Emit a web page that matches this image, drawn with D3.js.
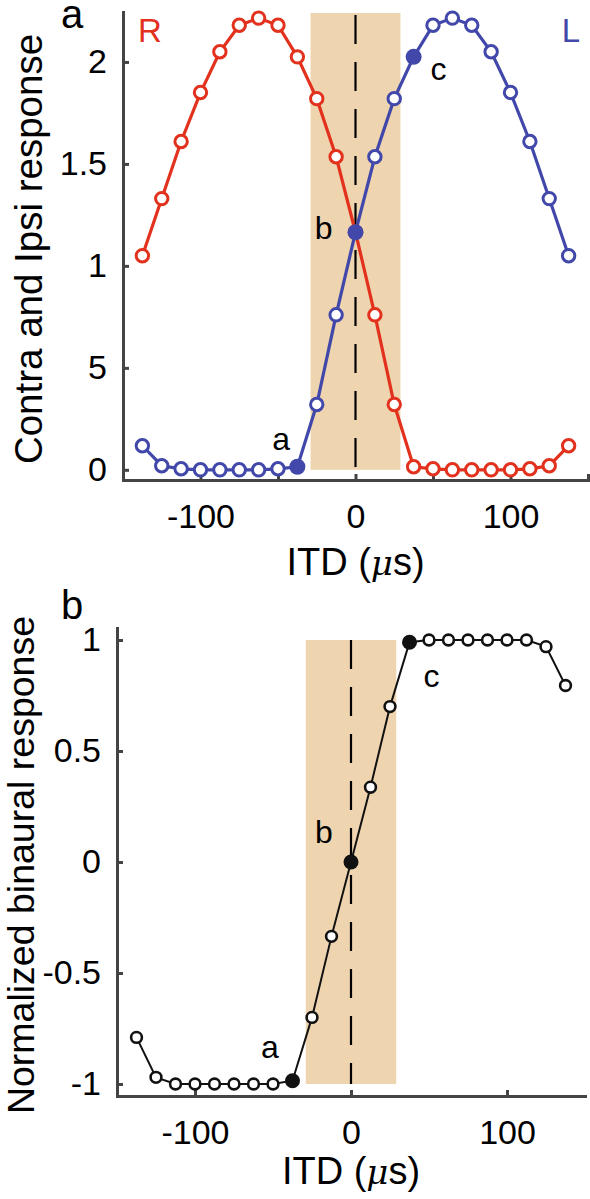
<!DOCTYPE html>
<html><head><meta charset="utf-8">
<script src="https://cdn.jsdelivr.net/npm/d3@7"></script>
<style>
body{margin:0;background:#fff}
text{font-family:"Liberation Sans",Arial,Helvetica,sans-serif}
</style>
</head><body>
<svg id="chart" width="590" height="1199"></svg>
<script>
// ---------- data ----------
const itd = [-137.5,-125,-112.5,-100,-87.5,-75,-62.5,-50,-37.5,-25,-12.5,0,12.5,25,37.5,50,62.5,75,87.5,100,112.5,125,137.5];
const rightResp = [1.05,1.33,1.61,1.85,2.05,2.18,2.215,2.18,2.025,1.82,1.535,1.165,0.76,0.32,0.015,0.005,0,0,0,0,0.005,0.02,0.118];
const leftResp  = [0.118,0.02,0.005,0,0,0,0,0.005,0.015,0.32,0.76,1.165,1.535,1.82,2.025,2.18,2.215,2.18,2.05,1.85,1.61,1.33,1.05];
const binaural  = [-0.79,-0.97,-1,-1,-1,-1,-1,-1,-0.985,-0.70,-0.335,0,0.337,0.70,0.99,1,1,1,1,1,1,0.97,0.795];
const markedIdx = [8,11,14];
const markNames = ["a","b","c"];
const topYTicks = [0,0.5,1,1.5,2];
const topYTickLabels = ["0","5","1","1.5","2"];
const topXTicks = [-150,-100,-50,0,50,100,150];
const botYTicks = [-1,-0.5,0,0.5,1];
const botYTickLabels = ["-1","-0.5","0","0.5","1"];
const botXTicks = [-100,0,100];
const labeledX = [-100,0,100];
const shade = [-29,29];
// annotation anchor positions in data units (ITD, response)
const topAnn = [[-48,0.095],[-20.5,1.13],[53.5,1.912]];
const botAnn = [[-52,-0.883],[-17.3,0.086],[51.6,0.788]];

const RED="#e2311d", BLUE="#4148aa", AX="#444444", SHADE="#efd4b0";
const svg = d3.select("#chart");

function axes(g, x, y, xt, yt, ylabels){
  const ax = g.append("g").attr("transform",`translate(0,${y.range()[0]})`)
    .call(d3.axisBottom(x).tickValues(xt).tickSizeInner(-6).tickSizeOuter(0).tickPadding(24)
      .tickFormat(d=>labeledX.includes(d)? String(d) : ""));
  const ay = g.append("g").attr("transform",`translate(${x.range()[0]},0)`)
    .call(d3.axisLeft(y).tickValues(yt).tickSizeInner(-6).tickSizeOuter(0).tickPadding(16)
      .tickFormat((d,i)=>ylabels[i]));
  [ax,ay].forEach(a=>{
    a.select(".domain").attr("stroke",AX).attr("stroke-width",3).attr("stroke-linecap","square");
    a.selectAll(".tick line").attr("stroke",AX).attr("stroke-width",3);
    a.selectAll(".tick text").attr("font-size",34).attr("fill","#000");
  });
}

function xLabel(g, x, yBase){
  const t = g.append("text").attr("x",x).attr("y",yBase).attr("text-anchor","middle")
    .attr("font-size",38).attr("fill","#000");
  t.append("tspan").text("ITD (");
  t.append("tspan").text("\u03bc").attr("font-style","italic").attr("style","font-family:'DejaVu Serif',serif").attr("font-size",34);
  t.append("tspan").text("s)");
}

// ---------- top panel ----------
{
  const x = d3.scaleLinear().domain([-150,150]).range([123,588]);
  const y = d3.scaleLinear().domain([-0.05,2.245]).range([480,12]);
  const g = svg.append("g");
  g.append("rect").attr("x",x(shade[0])).attr("width",x(shade[1])-x(shade[0]))
    .attr("y",y(2.24)).attr("height",y(0)-y(2.24)).attr("fill",SHADE);
  g.append("line").attr("x1",x(0)).attr("x2",x(0)).attr("y1",y(2.23)).attr("y2",y(0))
    .attr("stroke","#000").attr("stroke-width",2.2).attr("stroke-dasharray","29,18");
  axes(g,x,y,topXTicks,topYTicks,topYTickLabels);
  const line = d3.line().x((d,i)=>x(itd[i])).y(d=>y(d));
  [[rightResp,RED],[leftResp,BLUE]].forEach(([vals,col])=>{
    g.append("path").datum(vals).attr("d",line).attr("fill","none").attr("stroke",col).attr("stroke-width",3.2);
  });
  [[rightResp,RED],[leftResp,BLUE]].forEach(([vals,col])=>{
    vals.forEach((v,i)=>{
      if(col===BLUE && markedIdx.includes(i)) return;
      g.append("circle").attr("cx",x(itd[i])).attr("cy",y(v)).attr("r",6.2)
        .attr("fill","#fff").attr("stroke",col).attr("stroke-width",3);
    });
  });
  markedIdx.forEach(i=>{
    g.append("circle").attr("cx",x(itd[i])).attr("cy",y(leftResp[i])).attr("r",8).attr("fill",BLUE);
  });
  markNames.forEach((n,k)=>{
    g.append("text").attr("x",x(topAnn[k][0])).attr("y",y(topAnn[k][1])).attr("text-anchor","middle")
      .attr("font-size",32).attr("fill","#000").text(n);
  });
  g.append("text").attr("x",138).attr("y",42).attr("font-size",33).attr("fill",RED).text("R");
  g.append("text").attr("x",580).attr("y",42).attr("text-anchor","end").attr("font-size",33).attr("fill",BLUE).text("L");
  g.append("text").attr("x",61).attr("y",28).attr("font-size",40).attr("fill","#000").text("a");
  g.append("text").attr("transform",`translate(42,${(y.range()[0]+y.range()[1])/2+3}) rotate(-90)`)
    .attr("text-anchor","middle").attr("font-size",38.5).attr("fill","#000").text("Contra and Ipsi response");
  xLabel(g, x(0), 575);
}

// ---------- bottom panel ----------
{
  const x = d3.scaleLinear().domain([-150,150]).range([117,585]);
  const y = d3.scaleLinear().domain([-1.054,1.054]).range([1096,628]);
  const g = svg.append("g");
  g.append("rect").attr("x",x(shade[0])).attr("width",x(shade[1])-x(shade[0]))
    .attr("y",y(1)).attr("height",y(-1)-y(1)).attr("fill",SHADE);
  g.append("line").attr("x1",x(0)).attr("x2",x(0)).attr("y1",y(1)).attr("y2",y(-1))
    .attr("stroke","#000").attr("stroke-width",2.2).attr("stroke-dasharray","29,18");
  axes(g,x,y,botXTicks,botYTicks,botYTickLabels);
  const line = d3.line().x((d,i)=>x(itd[i])).y(d=>y(d));
  g.append("path").datum(binaural).attr("d",line).attr("fill","none").attr("stroke","#111").attr("stroke-width",2);
  binaural.forEach((v,i)=>{
    if(markedIdx.includes(i)){
      g.append("circle").attr("cx",x(itd[i])).attr("cy",y(v)).attr("r",7.5).attr("fill","#111");
    } else {
      g.append("circle").attr("cx",x(itd[i])).attr("cy",y(v)).attr("r",5.4).attr("fill","#fff")
        .attr("stroke","#111").attr("stroke-width",2.6);
    }
  });
  markNames.forEach((n,k)=>{
    g.append("text").attr("x",x(botAnn[k][0])).attr("y",y(botAnn[k][1])).attr("text-anchor","middle")
      .attr("font-size",32).attr("fill","#000").text(n);
  });
  g.append("text").attr("x",61).attr("y",619).attr("font-size",40).attr("fill","#000").text("b");
  g.append("text").attr("transform",`translate(34,${(y.range()[0]+y.range()[1])/2+3}) rotate(-90)`)
    .attr("text-anchor","middle").attr("font-size",37.5).attr("fill","#000").text("Normalized binaural response");
  xLabel(g, x(0), 1184);
}
</script>
</body></html>
